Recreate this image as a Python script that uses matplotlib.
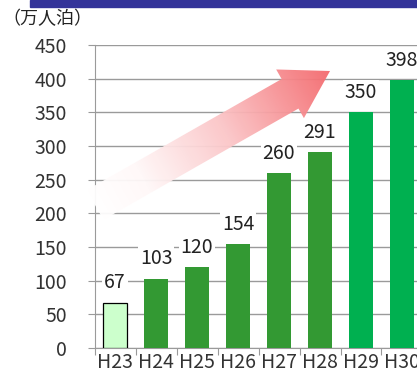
import numpy as np
import matplotlib.pyplot as plt
from matplotlib.patches import Polygon, Rectangle
from matplotlib.colors import LinearSegmentedColormap

plt.rcParams['font.family'] = ['Liberation Sans Narrow', 'Noto Sans CJK JP', 'DejaVu Sans']

years = ['H23', 'H24', 'H25', 'H26', 'H27', 'H28', 'H29', 'H30']
values = [67, 103, 120, 154, 260, 291, 350, 398]
colors = ['#CCFFCC'] + ['#339933'] * 5 + ['#00B050'] * 2
yticks = list(range(0, 451, 50))

W, H = 417, 381
fig = plt.figure(figsize=(W / 100, H / 100), dpi=100)

# main axes (runs off the right edge like the original)
ax = fig.add_axes([94.5 / W, 1 - 348 / H, 328 / W, 303 / H])
x = np.arange(len(years))
ax.bar(x, values, width=0.58, color=colors,
       edgecolor=['black'] + ['none'] * 7, linewidth=0.9, zorder=3)
for xi, v in zip(x, values):
    ax.text(xi, v + 14, str(v), ha='center', va='bottom', fontsize=14,
            color='#222222', zorder=5,
            bbox=dict(facecolor='white', edgecolor='none', pad=1.5))

ax.set_xlim(-0.5, 7.5)
ax.set_ylim(0, 450)
ax.set_yticks(yticks)
ax.set_yticklabels([str(t) for t in yticks], fontsize=14, color='#333333')
ax.yaxis.grid(True, color='#9a9a9a', linewidth=1, zorder=0)
ax.set_axisbelow(True)
ax.set_xticks(np.arange(-0.5, 8, 1))
ax.set_xticklabels([])
ax.set_xticks(x, minor=True)
ax.set_xticklabels(years, minor=True, fontsize=14, color='#333333')
ax.tick_params(axis='x', which='major', length=5, color='#9a9a9a', direction='out')
ax.tick_params(axis='x', which='minor', length=0, pad=3)
ax.tick_params(axis='y', length=5, color='#9a9a9a', pad=15)
for s in ['top', 'right']:
    ax.spines[s].set_visible(False)
ax.spines['left'].set_color('#9a9a9a')
ax.spines['bottom'].set_color('#9a9a9a')

# overlay in pixel coordinates for decorations
ov = fig.add_axes([0, 0, 1, 1], zorder=2)
ov.set_xlim(0, W)
ov.set_ylim(H, 0)
ov.axis('off')
ov.patch.set_alpha(0)

# blue band at top
ov.add_patch(Rectangle((30, 0), W - 30, 7, color='#333399'))
ov.text(2, 19, '（万人泊）', fontsize=13, va='center', ha='left', color='#222222',
        family=['Noto Sans CJK JP'])

# gradient arrow
tip = np.array([330.0, 71.0])
tail = np.array([95.0, 205.0])
d = (tip - tail) / np.linalg.norm(tip - tail)
n = np.array([-d[1], d[0]])
if n[1] < 0:
    n = -n
head_len, head_w, shaft_w = 46, 28, 17
base = tip - head_len * d
pts = [tail - shaft_w * n, base - shaft_w * n, base - head_w * n, tip,
       base + head_w * n, base + shaft_w * n, tail + shaft_w * n]
poly = Polygon(pts, closed=True, facecolor='none', edgecolor='none')
ov.add_patch(poly)
xs = np.linspace(60, 350, 300)
ys = np.linspace(40, 250, 210)
XX, YY = np.meshgrid(xs, ys)
proj = ((XX - tail[0]) * d[0] + (YY - tail[1]) * d[1]) / np.linalg.norm(tip - tail)
proj = np.clip(proj, 0, 1)
cmap = LinearSegmentedColormap.from_list(
    'pk', [(0, '#ffffff'), (0.2, '#fff8f8'), (0.55, '#fbc6c8'), (1, '#f46a6e')])
im = ov.imshow(proj, extent=[60, 350, 250, 40], origin='upper', cmap=cmap,
               vmin=0, vmax=1, aspect='auto', interpolation='bilinear', alpha=0.95)
im.set_clip_path(poly)
ov.set_xlim(0, W)
ov.set_ylim(H, 0)

fig.savefig('out.png', dpi=100)
